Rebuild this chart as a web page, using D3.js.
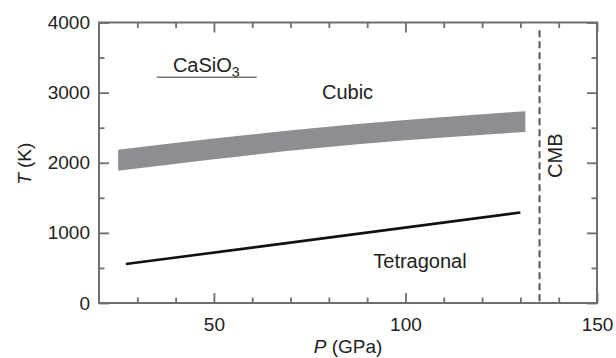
<!DOCTYPE html>
<html>
<head>
<meta charset="utf-8">
<script src="https://cdn.jsdelivr.net/npm/d3@7"></script>
<style>
  body { margin: 0; background: #fff; }
  text { font-family: "Liberation Sans", Arial, sans-serif; fill: #222; }
</style>
</head>
<body>
<div id="chart"></div>
<script>
// CaSiO3 phase boundary data
const bandP = [25, 50, 75, 100, 131.3];
const bandTop = [2185, 2345, 2490, 2610, 2735];
const bandBottom = [1885, 2050, 2200, 2320, 2440];
const tetraP = [27, 130];
const tetraT = [555, 1290];
const cmbP = 135;
const xMajor = [50, 100, 150];
const xMinor = [30, 40, 60, 70, 80, 90, 110, 120, 130, 140];
const yMajor = [0, 1000, 2000, 3000, 4000];
const yMinor = [500, 1500, 2500, 3500];

const W = 616, H = 358;
const MARGIN = { TOP: 22.5, BOTTOM: 55, LEFT: 99, RIGHT: 19 };

const svg = d3.select('#chart').append('svg')
  .attr('width', W)
  .attr('height', H);

const x = d3.scaleLinear().domain([20, 150]).range([MARGIN.LEFT, W - MARGIN.RIGHT]);
const y = d3.scaleLinear().domain([0, 4000]).range([H - MARGIN.BOTTOM, MARGIN.TOP]);

const axisColor = '#6e6e6e';

// band (cubic/tetragonal transition region)
const bandData = bandP.map((p, i) => ({ p, top: bandTop[i], bot: bandBottom[i] }));
svg.append('path')
  .datum(bandData)
  .attr('d', d3.area()
    .x(d => x(d.p))
    .y0(d => y(d.bot))
    .y1(d => y(d.top))
    .curve(d3.curveMonotoneX))
  .attr('fill', '#8d8e91');

// tetragonal line
svg.append('path')
  .datum(tetraP.map((p, i) => [p, tetraT[i]]))
  .attr('d', d3.line().x(d => x(d[0])).y(d => y(d[1])))
  .attr('fill', 'none')
  .attr('stroke', '#111')
  .attr('stroke-width', 2.6);

// CMB dashed line
svg.append('line')
  .attr('x1', x(cmbP)).attr('x2', x(cmbP))
  .attr('y1', y(3890)).attr('y2', y(0))
  .attr('stroke', '#555')
  .attr('stroke-width', 2)
  .attr('stroke-dasharray', '7,4');

// axes, ticks pointing inward
function axisGroup(maker, scale, transform, major, minor, showLabels) {
  const gMin = svg.append('g').attr('transform', transform)
    .call(maker(scale).tickValues(minor).tickSize(-5.5).tickFormat(''));
  gMin.select('.domain').remove();
  gMin.selectAll('line').attr('stroke', axisColor).attr('stroke-width', 1.8);
  const gMaj = svg.append('g').attr('transform', transform)
    .call(maker(scale).tickValues(major).tickSize(-10).tickPadding(12)
      .tickFormat(showLabels ? d3.format('d') : ''));
  gMaj.select('.domain').remove();
  gMaj.selectAll('line').attr('stroke', axisColor).attr('stroke-width', 1.8);
  gMaj.selectAll('text')
    .style('font-family', '"Liberation Sans", Arial, sans-serif')
    .style('font-size', '19px')
    .attr('fill', '#222');
  return gMaj;
}

const bottomY = H - MARGIN.BOTTOM;
const gx = axisGroup(d3.axisBottom, x, `translate(0,${bottomY})`, xMajor, xMinor, true);
gx.selectAll('text').attr('dy', '0.95em').attr('y', 10);
axisGroup(d3.axisTop, x, `translate(0,${MARGIN.TOP})`, xMajor, xMinor, false);
const gy = axisGroup(d3.axisLeft, y, `translate(${MARGIN.LEFT},0)`, yMajor, yMinor, true);
gy.selectAll('text').attr('x', -9);
axisGroup(d3.axisRight, y, `translate(${W - MARGIN.RIGHT},0)`, yMajor, yMinor, false);

// frame
svg.append('rect')
  .attr('x', MARGIN.LEFT).attr('y', MARGIN.TOP)
  .attr('width', W - MARGIN.LEFT - MARGIN.RIGHT)
  .attr('height', H - MARGIN.TOP - MARGIN.BOTTOM)
  .attr('fill', 'none')
  .attr('stroke', axisColor)
  .attr('stroke-width', 2);

// axis titles
svg.append('text')
  .attr('x', x(85)).attr('y', 353)
  .attr('text-anchor', 'middle')
  .style('font-size', '19px')
  .html('<tspan font-style="italic">P</tspan> (GPa)');

svg.append('text')
  .attr('transform', `translate(31,${y(2000) + 1}) rotate(-90)`)
  .attr('text-anchor', 'middle')
  .style('font-size', '19px')
  .html('<tspan font-style="italic">T</tspan> (K)');

// annotations
const title = svg.append('text')
  .attr('x', x(39.3)).attr('y', 72)
  .style('font-size', '20px');
title.append('tspan').text('CaSiO');
title.append('tspan').attr('dy', 5).style('font-size', '14px').text('3');

svg.append('line')
  .attr('x1', x(35.1)).attr('x2', x(61.2))
  .attr('y1', 77.3).attr('y2', 77.3)
  .attr('stroke', '#777')
  .attr('stroke-width', 1.6);

svg.append('text')
  .attr('x', x(78.2)).attr('y', 99)
  .style('font-size', '20px')
  .text('Cubic');

svg.append('text')
  .attr('x', x(91.6)).attr('y', 268)
  .style('font-size', '20px')
  .text('Tetragonal');

svg.append('text')
  .attr('transform', `translate(562,${y(2100)}) rotate(-90)`)
  .attr('text-anchor', 'middle')
  .style('font-size', '20px')
  .text('CMB');
</script>
</body>
</html>
